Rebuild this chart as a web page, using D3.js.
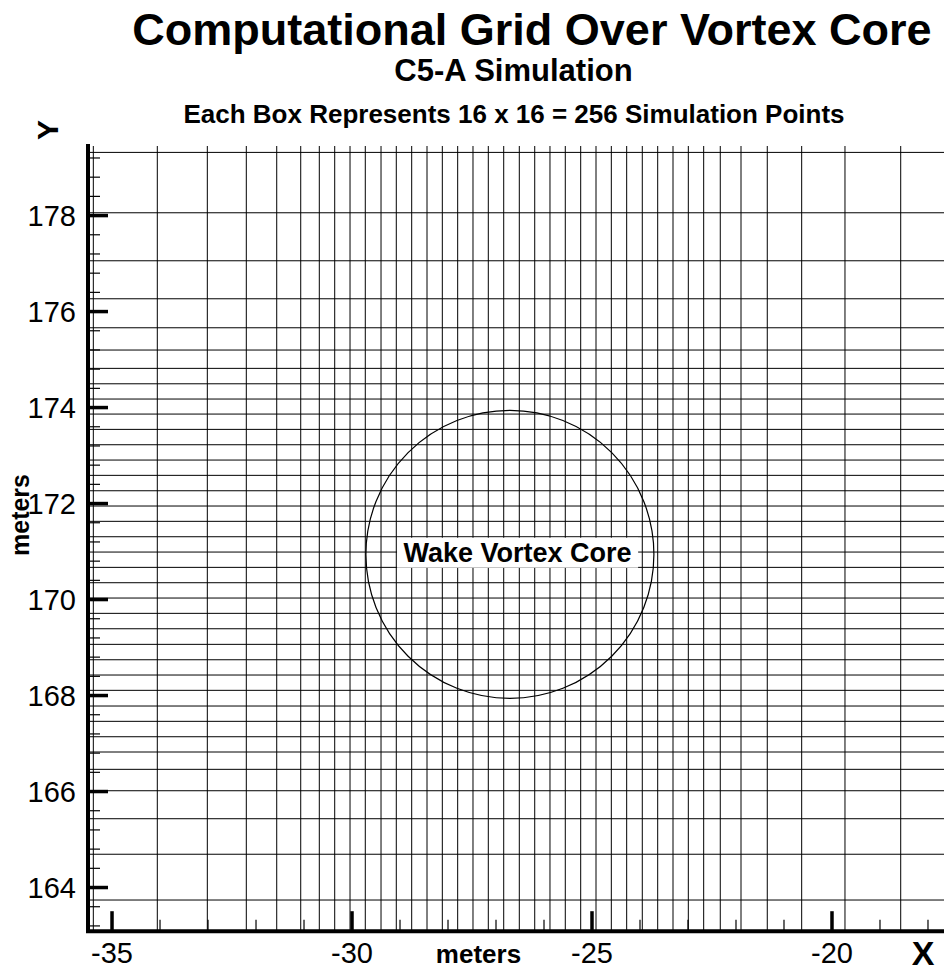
<!DOCTYPE html>
<html><head><meta charset="utf-8">
<script src="https://cdn.jsdelivr.net/npm/d3@7"></script>
<style>
body{margin:0;background:#fff;}
svg{display:block;font-family:"Liberation Sans",Arial,Helvetica,sans-serif;}
</style></head><body>
<svg id="chart" width="944" height="974"></svg>
<script>
// ---- data (metres) ----
const xGridLines = [-35.379, -34.046, -33.004, -32.192, -31.558, -31.058, -30.671, -30.350,
  -30.031, -29.713, -29.385, -29.067, -28.746, -28.427, -28.108, -27.788, -27.469, -27.150,
  -26.829, -26.504, -26.183, -25.865, -25.546, -25.225, -24.906, -24.587, -24.267, -23.942,
  -23.621, -23.302, -22.983, -22.663, -22.317, -21.885, -21.338, -20.621, -19.719, -18.558];
const yGridLines = [179.306, 178.048, 177.048, 176.256, 175.652, 175.188, 174.806, 174.485,
  174.167, 173.854, 173.535, 173.215, 172.896, 172.577, 172.256, 171.938, 171.619, 171.298,
  170.979, 170.660, 170.340, 170.021, 169.702, 169.381, 169.056, 168.735, 168.417, 168.098,
  167.771, 167.452, 167.131, 166.813, 166.452, 166.006, 165.423, 164.683, 163.729];
const xMajorTicks = [-35, -30, -25, -20];
const xMinorTicks = [-34, -33, -32, -31, -29, -28, -27, -26, -24, -23, -22, -21, -19, -18];
const yMajorTicks = [164, 166, 168, 170, 172, 174, 176, 178];
const yMinorTicks = [163.2, 163.6, 164.4, 164.8, 165.2, 165.6, 166.4, 166.8, 167.2, 167.6,
  168.4, 168.8, 169.2, 169.6, 170.4, 170.8, 171.2, 171.6, 172.4, 172.8, 173.2, 173.6,
  174.4, 174.8, 175.2, 175.6, 176.4, 176.8, 177.2, 177.6, 178.4, 178.8, 179.2];
const xDomain = [-35.49, -17.656];
const yDomain = [163.09, 179.46];
const coreCenter = [-26.70, 170.93];
const coreRadius = 3.0;
const coreLabel = "Wake Vortex Core";
const coreLabelPos = [-26.54, 170.965];
const titleText = "Computational Grid Over Vortex Core";
const subtitleText = "C5-A Simulation";
const noteText = "Each Box Represents 16 x 16 = 256 Simulation Points";
const xAxisName = "X", yAxisName = "Y", unitLabel = "meters";

// ---- layout ----
const svg = d3.select("#chart");
const W = 944;
const x = d3.scaleLinear().domain(xDomain).range([88, 944]);
const y = d3.scaleLinear().domain(yDomain).range([930.7, 145]);
const x0 = x.range()[0], y0 = y.range()[0], yTop = y.range()[1];
const fmt = d => String(d);

// grid
const grid = svg.append("g");
grid.selectAll("line.v").data(xGridLines).join("line")
  .attr("x1", d => x(d)).attr("x2", d => x(d))
  .attr("y1", yTop + 1).attr("y2", y0)
  .attr("stroke", "#000").attr("stroke-width", 1);
grid.selectAll("line.h").data(yGridLines).join("line")
  .attr("x1", x0).attr("x2", W)
  .attr("y1", d => y(d)).attr("y2", d => y(d))
  .attr("stroke", "#000").attr("stroke-width", 1);

// vortex core circle
svg.append("ellipse")
  .attr("cx", x(coreCenter[0])).attr("cy", y(coreCenter[1]))
  .attr("rx", x(coreCenter[0] + coreRadius) - x(coreCenter[0]))
  .attr("ry", y(coreCenter[1] - coreRadius) - y(coreCenter[1]))
  .attr("fill", "none").attr("stroke", "#000").attr("stroke-width", 1.2);

// label
const lg = svg.append("g").attr("transform", `translate(${x(coreLabelPos[0])},${y(coreLabelPos[1])})`);
const lt = lg.append("text").attr("text-anchor", "middle").attr("y", 9)
  .attr("font-size", 27).attr("font-weight", "bold").text(coreLabel);
const bb = lt.node().getBBox();
lg.insert("rect", "text").attr("x", bb.x - 6.5).attr("y", -15).attr("width", bb.width + 13).attr("height", 30)
  .attr("fill", "#fff");

// axes: minor ticks
const xMinorAxis = d3.axisBottom(x).tickValues(xMinorTicks).tickSize(-11).tickFormat("");
const gxm = svg.append("g").attr("transform", `translate(0,${y0})`).call(xMinorAxis);
gxm.select(".domain").remove();
gxm.selectAll(".tick line").attr("stroke", "#000").attr("stroke-width", 1.2);

const yMinorAxis = d3.axisLeft(y).tickValues(yMinorTicks).tickSize(-12).tickFormat("");
const gym = svg.append("g").attr("transform", `translate(${x0},0)`).call(yMinorAxis);
gym.select(".domain").remove();
gym.selectAll(".tick line").attr("stroke", "#000").attr("stroke-width", 1.2);

// major ticks + labels
const xAxis = d3.axisBottom(x).tickValues(xMajorTicks).tickSize(-19.5).tickPadding(12).tickFormat(fmt);
const gx = svg.append("g").attr("transform", `translate(0,${y0})`).call(xAxis);
gx.select(".domain").remove();
gx.selectAll(".tick line").attr("stroke", "#000").attr("stroke-width", 3.5);
gx.selectAll(".tick text").attr("font-size", 29).attr("fill", "#000")
  .attr("font-family", "Liberation Sans, Arial, sans-serif").attr("y", 0).attr("dy", 32.5);

const yAxis = d3.axisLeft(y).tickValues(yMajorTicks).tickSize(-20).tickPadding(12).tickFormat(fmt);
const gy = svg.append("g").attr("transform", `translate(${x0},0)`).call(yAxis);
gy.select(".domain").remove();
gy.selectAll(".tick line").attr("stroke", "#000").attr("stroke-width", 3.5);
gy.selectAll(".tick text").attr("font-size", 29).attr("fill", "#000")
  .attr("font-family", "Liberation Sans, Arial, sans-serif").attr("x", -12).attr("dy", "0.36em");

// axis lines
svg.append("line").attr("x1", x0).attr("x2", x0).attr("y1", yTop - 1).attr("y2", y0 + 2.3)
  .attr("stroke", "#000").attr("stroke-width", 4);
svg.append("line").attr("x1", x0 - 2).attr("x2", W).attr("y1", y0 + 0.6).attr("y2", y0 + 0.6)
  .attr("stroke", "#000").attr("stroke-width", 4);

// titles
svg.append("text").attr("x", 532).attr("y", 45).attr("text-anchor", "middle")
  .attr("font-size", 45).attr("font-weight", "bold").text(titleText);
svg.append("text").attr("x", 513.5).attr("y", 81).attr("text-anchor", "middle")
  .attr("font-size", 31).attr("font-weight", "bold").text(subtitleText);
svg.append("text").attr("x", 514).attr("y", 123).attr("text-anchor", "middle")
  .attr("font-size", 26).attr("font-weight", "bold").text(noteText);

// axis names
svg.append("text").attr("transform", "translate(58,130) rotate(-90)").attr("text-anchor", "middle")
  .attr("font-size", 30).attr("font-weight", "bold").text(yAxisName);
svg.append("text").attr("transform", "translate(29,515) rotate(-90)").attr("text-anchor", "middle")
  .attr("font-size", 25).attr("font-weight", "bold").text(unitLabel);
svg.append("text").attr("x", 478.5).attr("y", 963).attr("text-anchor", "middle")
  .attr("font-size", 26).attr("font-weight", "bold").text(unitLabel);
svg.append("text").attr("x", 923).attr("y", 965).attr("text-anchor", "middle")
  .attr("font-size", 34).attr("font-weight", "bold").text(xAxisName);
</script>
</body></html>
